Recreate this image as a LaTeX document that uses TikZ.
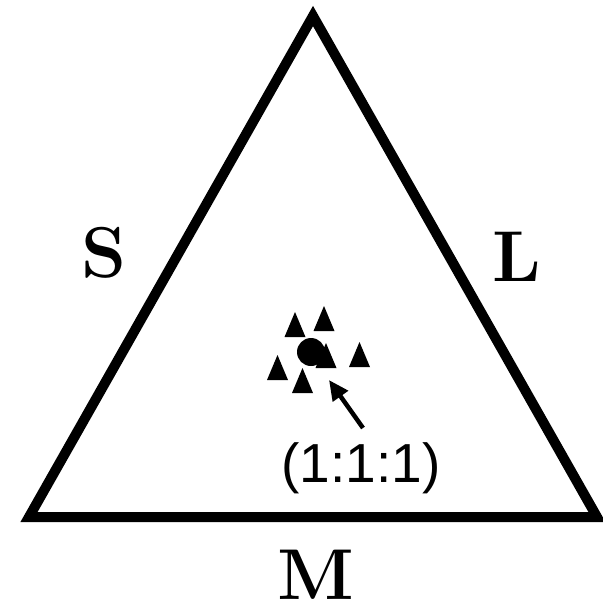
\documentclass[tikz,border=0pt]{standalone}
\usepackage{fontspec}
\newfontfamily\labsans{Liberation Sans}
\usetikzlibrary{arrows.meta}
\begin{document}
\begin{tikzpicture}[x=1pt,y=-1pt,
  side/.style={font=\fontsize{72}{72}\selectfont\bfseries, inner sep=0pt, anchor=base},
  ratio/.style={font=\labsans\fontsize{55}{55}\selectfont, inner sep=0pt, anchor=base},
  mark tri/.style={fill=black, draw=none},
  pointer/.style={line width=4.5pt, -{Triangle[length=20pt,width=18pt]}}]
\useasboundingbox (0,0) rectangle (603,606);
\coordinate (A) at (313,16);
\coordinate (B) at (29,517);
\coordinate (C) at (597,517);
\draw[line width=10pt, line join=miter] (A) -- (B) -- (C) -- cycle;
\node[side] (S) at (104,277) {S};
\node[side] (L) at (517,281) {L};
\node[side] (M) at (316,599) {M};
% dot
\fill (311,352) circle[radius=14];
% triangles (apex x, apex y, half width 10.5, height 25)
\foreach \x/\y in {295/312, 324/306, 359.5/342, 277.5/355, 302.5/368, 326/343}{
  \fill[mark tri] (\x,\y) -- (\x-10.5,\y+25) -- (\x+10.5,\y+25) -- cycle;
}
\node[ratio] (R) at (361,482) {(1:1:1)};
\coordinate (tail) at (363,428);
\coordinate (tip) at (329,380);
\draw[pointer] (tail) -- (tip);
\end{tikzpicture}
\end{document}
